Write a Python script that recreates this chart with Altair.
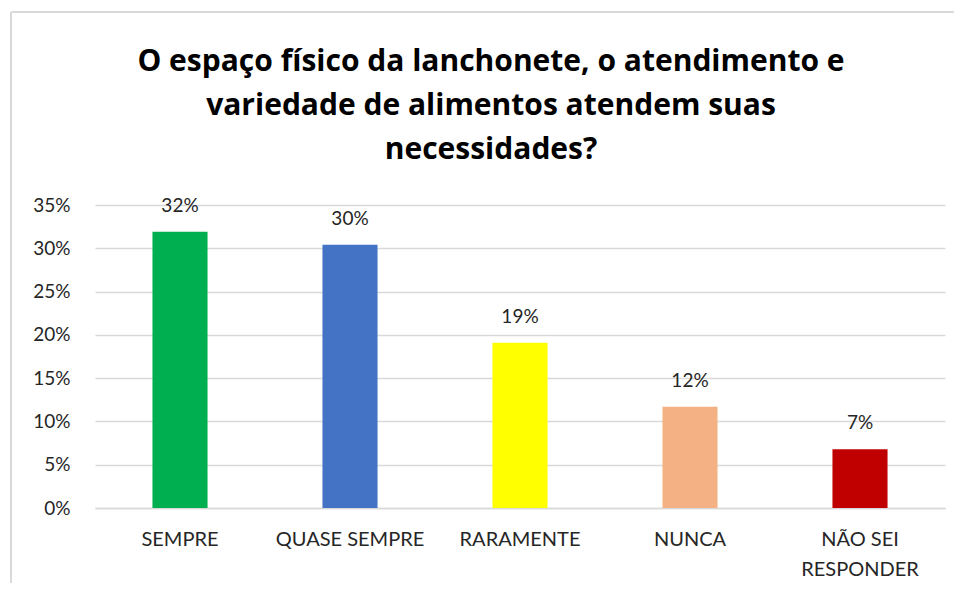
import altair as alt
import pandas as pd

categories = ["SEMPRE", "QUASE SEMPRE", "RARAMENTE", "NUNCA", "NÃO SEI RESPONDER"]
values = [0.319, 0.304, 0.191, 0.117, 0.068]
labels = ["32%", "30%", "19%", "12%", "7%"]
colors = ["#00B050", "#4472C4", "#FFFF00", "#F4B183", "#C00000"]

df = pd.DataFrame({"cat": categories, "val": values, "lab": labels, "col": colors})

FONT = "Lato"

x = alt.X("cat:N", sort=categories, title=None,
          scale=alt.Scale(paddingInner=0.676, paddingOuter=0.338),
          axis=alt.Axis(labelAngle=0, labelFont=FONT, labelFontSize=20, labelColor="#262626",
                        labelPadding=21, ticks=False, domainColor="#D9D9D9", domainWidth=1.5,
                        labelLineHeight=30, labelBaseline="top",
                        labelExpr="datum.value == 'NÃO SEI RESPONDER' ? ['NÃO SEI', 'RESPONDER'] : datum.value"))
y = alt.Y("val:Q", title=None,
          scale=alt.Scale(domain=[0, 0.35]),
          axis=alt.Axis(format=".0%", values=[0, 0.05, 0.1, 0.15, 0.2, 0.25, 0.3, 0.35],
                        labelFont=FONT, labelFontSize=19, labelColor="#262626", labelPadding=25,
                        ticks=False, domain=False, gridColor="#D9D9D9", gridWidth=1.5))

base = alt.Chart(df)
bars = base.mark_bar().encode(x=x, y=y, color=alt.Color("col:N", scale=None))
text = base.mark_text(font=FONT, fontSize=19, color="#262626", baseline="alphabetic", dy=-20).encode(
    x=alt.X("cat:N", sort=categories), y="val:Q", text="lab:N")

border_top = alt.Chart(df).mark_rule(color="#D9D9D9", strokeWidth=2).encode(
    x=alt.value(-84), x2=alt.value(860), y=alt.value(-193))
border_left = alt.Chart(df).mark_rule(color="#D9D9D9", strokeWidth=2).encode(
    x=alt.value(-84), y=alt.value(-193), y2=alt.value(380))

chart = alt.layer(border_top, border_left, bars, text).properties(
    width=850, height=303,
    autosize=alt.AutoSizeParams(type="none"),
    padding={"left": 87, "top": 197, "right": 9, "bottom": 75},
    title=alt.TitleParams(
        text=["O espaço físico da lanchonete, o atendimento e",
              "variedade de alimentos atendem suas",
              "necessidades?"],
        font="Open Sans", fontSize=30, fontWeight="bold", color="#000000",
        anchor="middle", frame="group", lineHeight=44, offset=-154, dx=-29),
).configure(background="white").configure_view(stroke=None)

chart.save("out.html", embed_options={"renderer": "svg", "actions": False})
